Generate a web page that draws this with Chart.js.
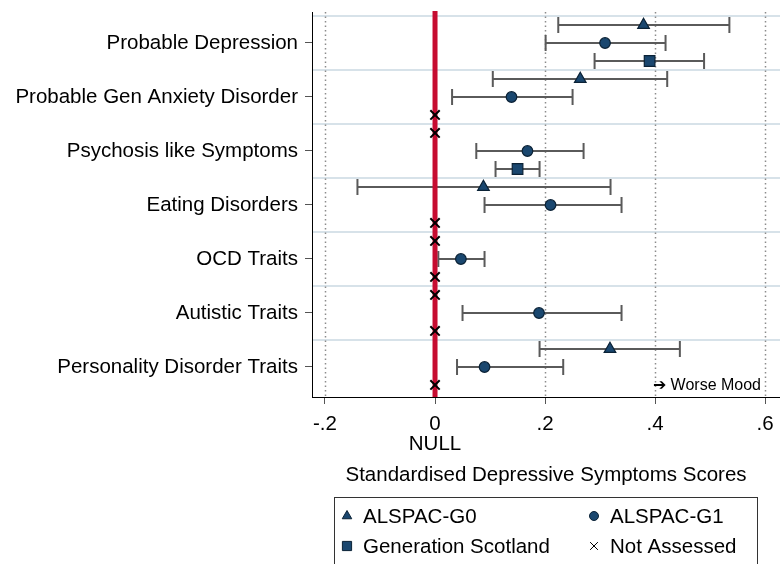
<!DOCTYPE html>
<html lang="en">
<head>
  <meta charset="UTF-8">
  <title>Standardised Depressive Symptoms Scores</title>
  <script src="https://cdn.jsdelivr.net/npm/chart.js"></script>
  <style>
    body {
      margin: 0;
      background: #fff;
    }
    #wrap {
      width: 780px;
      height: 564px;
    }
  </style>
</head>
<body>
  <div id="wrap"><canvas id="chart" width="780" height="564"></canvas></div>

  <script>
    const categories = [
      'Probable Depression',
      'Probable Gen Anxiety Disorder',
      'Psychosis like Symptoms',
      'Eating Disorders',
      'OCD Traits',
      'Autistic Traits',
      'Personality Disorder Traits'
    ];

    // ALSPAC-G0 (triangles): estimate and 95% CI, null = not assessed
    const g0Est = [0.379, 0.264, null, 0.088, null, null, 0.318];
    const g0Lo  = [0.224, 0.105, null, -0.141, null, null, 0.190];
    const g0Hi  = [0.535, 0.422, null, 0.319, null, null, 0.445];

    // ALSPAC-G1 (circles)
    const g1Est = [0.309, 0.139, 0.168, 0.210, 0.047, 0.189, 0.090];
    const g1Lo  = [0.201, 0.031, 0.075, 0.090, 0.006, 0.050, 0.040];
    const g1Hi  = [0.419, 0.250, 0.270, 0.339, 0.090, 0.339, 0.233];

    // Generation Scotland (squares)
    const gsEst = [0.390, null, 0.150, null, null, null, null];
    const gsLo  = [0.290, null, 0.110, null, null, null, null];
    const gsHi  = [0.489, null, 0.190, null, null, null, null];

    const xTicks = [-0.2, 0, 0.2, 0.4, 0.6];
    const xTickLabels = ['-.2', ['0', 'NULL'], '.2', '.4', '.6'];

    const FONT = '"Liberation Sans", Arial, sans-serif';
    const NAVY = '#1a476f';
    const EDGE = '#0b2236';

    const series = [
      { est: g0Est, lo: g0Lo, hi: g0Hi },
      { est: g1Est, lo: g1Lo, hi: g1Hi },
      { est: gsEst, lo: gsLo, hi: gsHi }
    ];

    // row number of a study within a category (1 = top)
    function rowOf(cat, s) {
      return cat * 3 + s + 1;
    }

    function pointsFor(s) {
      const out = [];
      series[s].est.forEach((v, i) => {
        if (v !== null) out.push({ x: v, y: rowOf(i, s) });
      });
      return out;
    }

    const notAssessed = [];
    series.forEach((sr, s) => {
      sr.est.forEach((v, i) => {
        if (v === null) notAssessed.push({ x: 0, y: rowOf(i, s) });
      });
    });

    const catRows = categories.map((c, i) => rowOf(i, 1));
    const sepRows = categories.map((c, i) => i * 3 + 0.5);

    const forestPlugin = {
      id: 'forest',
      beforeDatasetsDraw(chart) {
        const { ctx, chartArea: a, scales: { x, y } } = chart;
        ctx.save();

        // light separators between outcome groups
        ctx.strokeStyle = '#d7e2e9';
        ctx.lineWidth = 2;
        sepRows.forEach(r => {
          const py = y.getPixelForValue(r);
          ctx.beginPath();
          ctx.moveTo(a.left + 1, py);
          ctx.lineTo(a.right, py);
          ctx.stroke();
        });

        // dotted vertical grid
        ctx.strokeStyle = '#8c8c8c';
        ctx.lineWidth = 1.5;
        ctx.setLineDash([1.5, 3]);
        xTicks.forEach(v => {
          if (v === 0) return;
          const px = Math.round(x.getPixelForValue(v)) + 0.5;
          ctx.beginPath();
          ctx.moveTo(px, a.top);
          ctx.lineTo(px, a.bottom);
          ctx.stroke();
        });
        ctx.setLineDash([]);

        // confidence intervals
        ctx.strokeStyle = '#5a5a5a';
        ctx.lineWidth = 2;
        series.forEach((sr, s) => {
          sr.est.forEach((v, i) => {
            if (v === null) return;
            const py = y.getPixelForValue(rowOf(i, s));
            const x1 = x.getPixelForValue(sr.lo[i]);
            const x2 = x.getPixelForValue(sr.hi[i]);
            ctx.beginPath();
            ctx.moveTo(x1, py);
            ctx.lineTo(x2, py);
            ctx.moveTo(x1, py - 8);
            ctx.lineTo(x1, py + 8);
            ctx.moveTo(x2, py - 8);
            ctx.lineTo(x2, py + 8);
            ctx.stroke();
          });
        });

        // null line
        const p0 = x.getPixelForValue(0);
        ctx.fillStyle = '#c60c30';
        ctx.fillRect(p0 - 2.5, a.top - 1, 5, a.bottom - a.top + 1);

        ctx.restore();
      },
      afterDraw(chart) {
        const { ctx } = chart;
        ctx.save();

        ctx.fillStyle = '#000';
        ctx.font = '16px ' + FONT;
        ctx.textAlign = 'right';
        ctx.textBaseline = 'middle';
        ctx.fillText('\u2794 Worse Mood', 761, 386);

        // legend
        ctx.strokeStyle = '#333';
        ctx.lineWidth = 1;
        ctx.strokeRect(334.5, 497.5, 423, 90);

        const items = [
          { label: 'ALSPAC-G0', style: 'triangle', r: 5.5, x: 347, y: 516 },
          { label: 'ALSPAC-G1', style: 'circle', r: 4.5, x: 594, y: 516 },
          { label: 'Generation Scotland', style: 'rect', r: 6.5, x: 347, y: 546 },
          { label: 'Not Assessed', style: 'crossRot', r: 5.5, x: 594, y: 546 }
        ];
        items.forEach(it => {
          ctx.fillStyle = NAVY;
          ctx.strokeStyle = it.style === 'crossRot' ? '#000' : EDGE;
          Chart.helpers.drawPoint(ctx, {
            pointStyle: it.style,
            radius: it.r,
            rotation: 0,
            borderWidth: it.style === 'crossRot' ? 1.5 : 1
          }, it.x, it.y);
          ctx.fillStyle = '#000';
          ctx.font = '20.5px ' + FONT;
          ctx.textAlign = 'left';
          ctx.textBaseline = 'middle';
          ctx.fillText(it.label, it.x + 16, it.y + 1);
        });

        ctx.restore();
      }
    };

    new Chart(document.getElementById('chart').getContext('2d'), {
      type: 'scatter',
      data: {
        datasets: [
          {
            label: 'ALSPAC-G0',
            data: pointsFor(0),
            pointStyle: 'triangle',
            pointRadius: 6.7,
            backgroundColor: NAVY,
            borderColor: EDGE,
            borderWidth: 1.2
          },
          {
            label: 'ALSPAC-G1',
            data: pointsFor(1),
            pointStyle: 'circle',
            pointRadius: 5.3,
            backgroundColor: NAVY,
            borderColor: EDGE,
            borderWidth: 1.2
          },
          {
            label: 'Generation Scotland',
            data: pointsFor(2),
            pointStyle: 'rect',
            pointRadius: 7.5,
            backgroundColor: NAVY,
            borderColor: EDGE,
            borderWidth: 1.2
          },
          {
            label: 'Not Assessed',
            data: notAssessed,
            pointStyle: 'crossRot',
            pointRadius: 6.6,
            borderColor: '#000',
            borderWidth: 2
          }
        ]
      },
      options: {
        responsive: false,
        animation: false,
        events: [],
        layout: {
          autoPadding: false,
          padding: { top: 12, left: 0, right: 0, bottom: 0 }
        },
        plugins: {
          legend: { display: false },
          tooltip: { enabled: false }
        },
        scales: {
          x: {
            type: 'linear',
            min: -0.2236,
            max: 0.627,
            afterBuildTicks: s => { s.ticks = xTicks.map(v => ({ value: v })); },
            afterFit: s => {
              s.height = 167;
              s.paddingLeft = 0;
              s.paddingRight = 0;
            },
            ticks: {
              color: '#000',
              font: { family: FONT, size: 20.5, lineHeight: 0.95 },
              padding: 11,
              maxRotation: 0,
              callback: (v) => {
                const k = xTicks.findIndex(t => Math.abs(t - v) < 1e-9);
                return k >= 0 ? xTickLabels[k] : '';
              }
            },
            grid: {
              drawOnChartArea: false,
              drawTicks: true,
              tickLength: 7,
              color: '#555'
            },
            border: { display: true, color: '#000', width: 1 },
            title: {
              display: true,
              text: 'Standardised Depressive Symptoms Scores',
              color: '#000',
              font: { family: FONT, size: 20.5 },
              padding: { top: 0, bottom: 76 }
            }
          },
          y: {
            type: 'linear',
            reverse: true,
            min: 0.2778,
            max: 21.667,
            afterBuildTicks: s => { s.ticks = catRows.map(v => ({ value: v })); },
            afterFit: s => {
              s.width = 312;
              s.paddingTop = 0;
              s.paddingBottom = 0;
            },
            ticks: {
              color: '#000',
              font: { family: FONT, size: 20.5 },
              padding: 7,
              callback: (v) => {
                const k = catRows.indexOf(v);
                return k >= 0 ? categories[k] : '';
              }
            },
            grid: {
              drawOnChartArea: false,
              drawTicks: true,
              tickLength: 7,
              color: '#555'
            },
            border: { display: true, color: '#000', width: 1 }
          }
        }
      },
      plugins: [forestPlugin]
    });
  </script>
</body>
</html>
